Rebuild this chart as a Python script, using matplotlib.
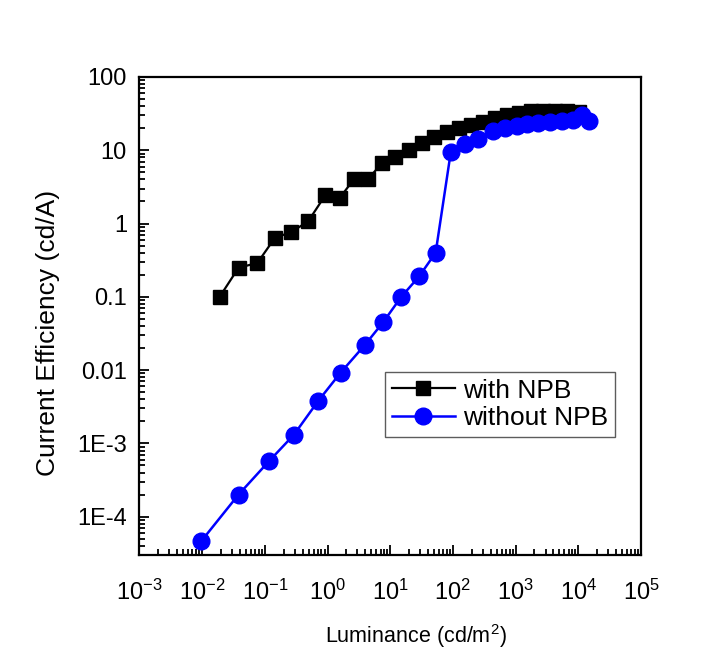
"""Current efficiency vs luminance, with and without NPB layer."""

import matplotlib
matplotlib.use("Agg")
import matplotlib.pyplot as plt
from matplotlib.ticker import FixedLocator, FixedFormatter, LogLocator, NullFormatter

plt.rcParams["font.family"] = ["Liberation Sans", "DejaVu Sans"]
plt.rcParams["mathtext.fontset"] = "custom"
plt.rcParams["mathtext.rm"] = "Liberation Sans"
plt.rcParams["mathtext.it"] = "Liberation Sans"
plt.rcParams["mathtext.default"] = "regular"

# with NPB
lum_npb = [0.019, 0.038, 0.076, 0.145, 0.26, 0.49, 0.92, 1.57, 2.65, 4.45,
           7.3, 11.8, 19.8, 31.9, 49.6, 79.8, 124, 193, 300, 466, 725,
           1125, 1747, 2716, 4219, 6556, 10190]
ce_npb = [0.1, 0.249, 0.29, 0.64, 0.76, 1.07, 2.43, 2.24, 4.07, 4.07,
          6.6, 8.0, 10.1, 12.5, 15.4, 18.0, 20.0, 22.2, 24.6, 27.4, 30.4,
          32.0, 34.3, 34.8, 34.8, 34.3, 33.2]

# without NPB
lum_no = [0.0096, 0.038, 0.116, 0.29, 0.71, 1.61, 3.93, 7.7, 15, 28.9, 53,
          92.7, 155, 252, 438, 673, 1033, 1508, 2285, 3508, 5395, 8260,
          11250, 14860]
ce_no = [4.6e-5, 2.0e-4, 5.7e-4, 1.31e-3, 3.8e-3, 9.2e-3, 0.022, 0.045, 0.1,
         0.19, 0.4, 9.6, 12.0, 14.3, 18.2, 20.2, 21.7, 23.1, 23.6, 24.4,
         24.9, 26.2, 30.7, 24.9]

y_ticks = [1e-4, 1e-3, 1e-2, 1e-1, 1, 10, 100]
y_tick_labels = ["1E-4", "1E-3", "0.01", "0.1", "1", "10", "100"]

fig = plt.figure(figsize=(7.28, 6.59), dpi=100)
ax = fig.add_axes([0.1916, 0.1578, 0.6889, 0.7254])

ax.plot(lum_npb, ce_npb, color="black", lw=1.6, marker="s", ms=10.5,
        label="with NPB")
ax.plot(lum_no, ce_no, color="#0000ff", lw=1.8, marker="o", ms=12,
        label="without NPB")

ax.set_xscale("log")
ax.set_yscale("log")
ax.set_xlim(1e-3, 1e5)
ax.set_ylim(3e-5, 100)

ax.xaxis.set_major_locator(LogLocator(base=10, numticks=20))
ax.xaxis.set_minor_locator(LogLocator(base=10, subs=range(2, 10), numticks=20))
ax.xaxis.set_minor_formatter(NullFormatter())
ax.yaxis.set_major_locator(FixedLocator(y_ticks))
ax.yaxis.set_major_formatter(FixedFormatter(y_tick_labels))
ax.yaxis.set_minor_locator(LogLocator(base=10, subs=range(2, 10), numticks=20))
ax.yaxis.set_minor_formatter(NullFormatter())

ax.tick_params(which="both", direction="in", top=False, right=False,
               width=1.3, labelsize=17)
ax.tick_params(which="major", length=7)
ax.tick_params(which="minor", length=4)
ax.tick_params(axis="x", which="major", pad=18)
ax.tick_params(axis="y", which="major", pad=9)
for sp in ax.spines.values():
    sp.set_linewidth(1.6)

ax.set_xlabel("Luminance (cd/m$^2$)", fontsize=15.5)
ax.set_ylabel("Current Efficiency (cd/A)", fontsize=19)
ax.xaxis.set_label_coords(0.551, -0.14)
ax.yaxis.set_label_coords(-0.158, 0.464)

leg = ax.legend(loc="upper left", bbox_to_anchor=(0.49, 0.383),
                borderaxespad=0, fontsize=19, fancybox=False,
                edgecolor="#333333", handlelength=2.4, handletextpad=0.3,
                labelspacing=0.15, borderpad=0.25)
leg.get_frame().set_linewidth(1.0)

fig.savefig("out.png", dpi=100, facecolor="white")
